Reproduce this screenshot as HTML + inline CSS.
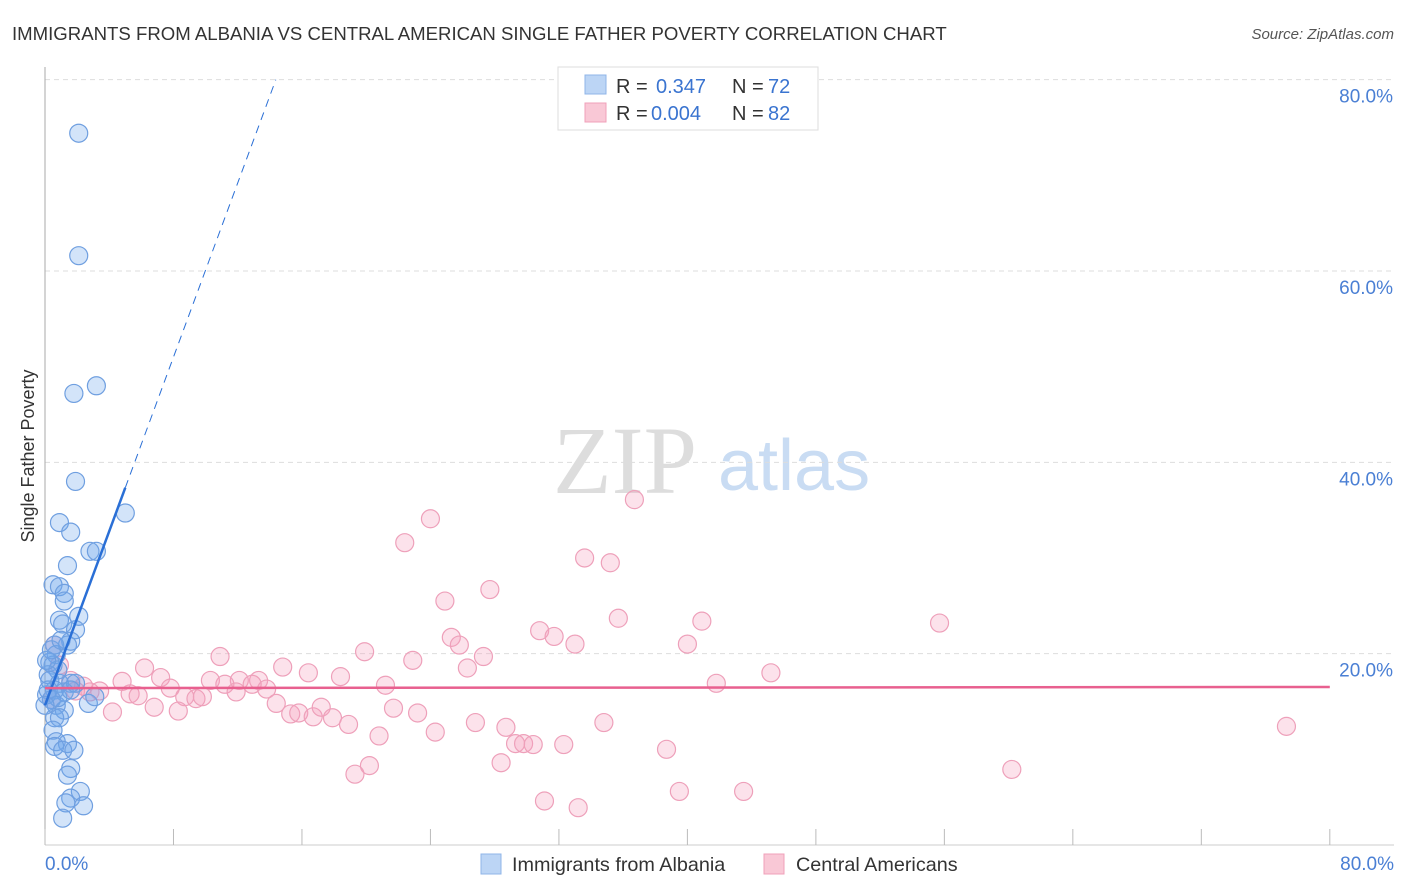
<!DOCTYPE html>
<html><head><meta charset="utf-8"><style>
body{margin:0;background:#fff;font-family:"Liberation Sans",sans-serif}
svg{display:block}
</style></head><body>
<svg id="chart" width="1406" height="892" xmlns="http://www.w3.org/2000/svg" font-family="Liberation Sans, sans-serif">
<text x="12" y="40" font-size="18.6" fill="#333">IMMIGRANTS FROM ALBANIA VS CENTRAL AMERICAN SINGLE FATHER POVERTY CORRELATION CHART</text>
<text x="1394" y="39" font-size="15" fill="#555" font-style="italic" text-anchor="end">Source: ZipAtlas.com</text>
<g>
<text x="553" y="493" font-size="96" fill="#ddd" font-family="Liberation Serif, serif">ZIP</text>
<text x="718" y="490" font-size="72" fill="#c9dcf3">atlas</text>
</g>
<text transform="translate(34,456) rotate(-90)" font-size="18" fill="#333" text-anchor="middle">Single Father Poverty</text>
<g id="grid"></g>
<g id="marks"></g>
<g>
<rect x="558" y="67" width="260" height="63" fill="#fff" stroke="#ddd"/>
<rect x="585" y="75" width="21" height="19" fill="#bcd5f5" stroke="#8fb5e8"/>
<rect x="585" y="103" width="21" height="19" fill="#f9c8d6" stroke="#f0a0ba"/>
<text x="616" y="93" font-size="20" fill="#333">R = </text><text x="656" y="93" font-size="20" fill="#3a74d0">0.347</text>
<text x="732" y="93" font-size="20" fill="#333">N = </text><text x="768" y="93" font-size="20" fill="#3a74d0">72</text>
<text x="616" y="120" font-size="20" fill="#333">R = </text><text x="651" y="120" font-size="20" fill="#3a74d0">0.004</text>
<text x="732" y="120" font-size="20" fill="#333">N = </text><text x="768" y="120" font-size="20" fill="#3a74d0">82</text>
</g>
<g>
<rect x="481" y="854" width="20" height="20" fill="#bcd5f5" stroke="#8fb5e8"/>
<text x="512" y="871" font-size="19.8" fill="#333">Immigrants from Albania</text>
<rect x="764" y="854" width="20" height="20" fill="#f9c8d6" stroke="#f0a0ba"/>
<text x="796" y="871" font-size="19.8" fill="#333">Central Americans</text>
</g>
</svg>
<script>
const yTicks=[20,40,60,80];
const yTickLabels=["20.0%","40.0%","60.0%","80.0%"];
const xTicks=[0,8,16,24,32,40,48,56,64,72,80];
const blueX=[2.1,2.1,3.2,1.8,1.9,5.0,0.9,1.6,2.8,3.2,1.4,0.5,0.9,1.2,1.2,2.1,0.9,1.1,1.9,1.6,0.6,1.4,0.7,0.3,0.5,0.8,0.2,0.3,0.9,1.6,0.6,1.2,0.1,0.4,2.7,3.1,0.7,1.2,0.6,0.9,0.5,0.7,1.4,0.6,1.1,1.8,1.6,1.4,2.2,1.6,1.3,2.4,1.1,0.1,0.4,1.0,0.2,0.8,0,1.9,1.6];
const blueY=[74.4,61.6,48.0,47.2,38.0,34.7,33.7,32.7,30.7,30.7,29.2,27.2,27.0,26.3,25.5,23.9,23.5,23.1,22.5,21.3,20.9,20.9,19.9,19.1,18.8,18.3,17.8,17.2,16.9,16.9,16.2,16.0,15.7,15.2,14.8,15.5,14.6,14.1,13.3,13.3,12.0,10.8,10.6,10.3,9.9,9.9,8.0,7.3,5.6,4.9,4.4,4.1,2.8,19.3,20.4,21.4,16.2,15.4,14.6,16.9,16.2];
const pinkX=[36.7,24.0,22.4,33.6,35.2,27.7,24.9,35.7,40.9,55.7,30.8,31.7,25.3,25.8,33.0,40.0,19.9,10.9,27.3,22.9,6.2,14.8,26.3,45.2,16.4,7.2,4.8,10.3,12.1,13.3,18.4,11.2,12.9,21.2,41.8,7.8,13.8,2.4,3.4,5.3,1.9,11.9,5.8,8.7,9.4,9.8,4.2,6.8,8.3,14.4,15.3,15.8,16.7,17.2,17.9,18.9,21.7,23.2,24.3,20.8,26.8,28.7,34.8,29.3,29.8,30.4,32.3,38.7,28.4,20.2,19.3,60.2,77.3,31.1,33.2,39.5,43.5,0.6,0.9,1.6,2.8,0.4];
const pinkY=[36.1,34.1,31.6,30.0,29.5,26.7,25.5,23.7,23.4,23.2,22.4,21.8,21.7,20.9,21.0,21.0,20.2,19.7,19.7,19.3,18.5,18.6,18.5,18.0,18.0,17.5,17.1,17.2,17.2,17.2,17.6,16.8,16.8,16.7,16.9,16.4,16.3,16.6,16.1,15.8,16.1,16.0,15.6,15.5,15.3,15.5,13.9,14.4,14.0,14.8,13.7,13.8,13.4,14.4,13.3,12.6,14.3,13.8,11.8,11.4,12.8,12.3,12.8,10.6,10.6,10.5,10.5,10.0,8.6,8.3,7.4,7.9,12.4,4.6,3.9,5.6,5.6,20.9,18.8,17.2,16.0,15.2];
const blueTrend=[14.6,4.55]; // intercept, slope
const pinkTrend=[16.4,0.0015];
const NS="http://www.w3.org/2000/svg";
const X=v=>45+v*16.06, Y=v=>845-v*9.567;
function mk(t,a,p){const e=document.createElementNS(NS,t);for(const k in a)e.setAttribute(k,a[k]);p.appendChild(e);return e;}
const grid=document.getElementById('grid'),marks=document.getElementById('marks');
yTicks.forEach((t,i)=>{
 const g=mk('line',{x1:45,x2:1394,y1:Y(t),y2:Y(t),stroke:'#ddd','stroke-dasharray':'5,4'},grid);
 
 
 const l=mk('text',{x:1393,y:Y(t)+23,'font-size':19,fill:'#4a7fd4','text-anchor':'end'},grid);
 l.textContent=yTickLabels[i];
 
 
});
const ax=mk('line',{x1:45,x2:45,y1:67,y2:845,stroke:'#aaa'},grid);


const bx=mk('line',{x1:45,x2:1394,y1:845,y2:845,stroke:'#ccc'},grid);


xTicks.forEach(t=>{const e=mk('line',{x1:X(t),x2:X(t),y1:829,y2:845,stroke:'#bbb'},grid);
 
 });
const x0=mk('text',{x:45,y:870,'font-size':19,fill:'#4a7fd4'},grid);x0.textContent='0.0%';


const x1=mk('text',{x:1394,y:870,'font-size':19,fill:'#4a7fd4','text-anchor':'end'},grid);x1.textContent='80.0%';


pinkX.forEach((v,i)=>{const c=mk('circle',{cx:X(v),cy:Y(pinkY[i]),r:9,fill:'rgba(244,160,188,0.3)',stroke:'#eea0ba','stroke-width':1.2},marks);
 
 });
blueX.forEach((v,i)=>{const c=mk('circle',{cx:X(v),cy:Y(blueY[i]),r:9,fill:'rgba(110,165,235,0.3)',stroke:'#6f9fe0','stroke-width':1.2},marks);
 
 });
const bt=v=>blueTrend[0]+blueTrend[1]*v;
const xEnd=(80-blueTrend[0])/blueTrend[1];
const b1=mk('line',{x1:X(0),y1:Y(bt(0)),x2:X(5),y2:Y(bt(5)),stroke:'#2a6fd6','stroke-width':2.5},marks);


const b2=mk('line',{x1:X(5),y1:Y(bt(5)),x2:X(xEnd),y2:Y(bt(xEnd)),stroke:'#2a6fd6','stroke-width':1,'stroke-dasharray':'8,6'},marks);


const pt=v=>pinkTrend[0]+pinkTrend[1]*v;
const p1=mk('line',{x1:X(0),y1:Y(pt(0)),x2:X(80),y2:Y(pt(80)),stroke:'#e8608f','stroke-width':2.5},marks);


</script>
</body></html>
